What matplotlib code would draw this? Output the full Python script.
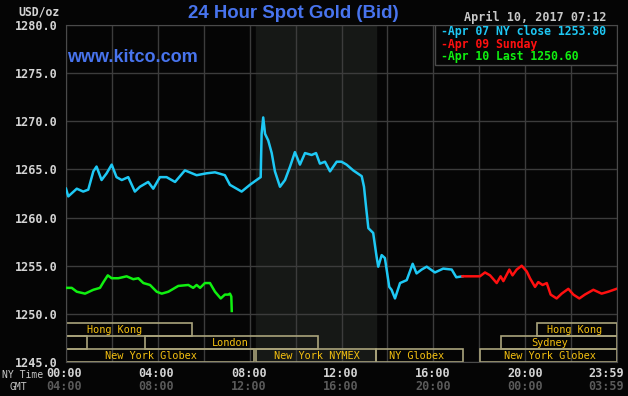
import matplotlib
matplotlib.use("Agg")
import matplotlib.pyplot as plt
from matplotlib.patches import Rectangle

# Apr 07 NY session (hours NY time, price)
blue_h = [0.0, 0.1, 0.47, 0.75, 0.97, 1.19, 1.33, 1.55, 1.77, 1.99, 2.2, 2.43, 2.71,
          3.0, 3.22, 3.58, 3.8, 4.09, 4.38, 4.75, 5.18, 5.69, 6.13, 6.49, 6.92, 7.14,
          7.65, 8.01, 8.3, 8.48, 8.52, 8.59, 8.67, 8.81, 8.96, 9.1, 9.32, 9.54, 9.76,
          9.97, 10.19, 10.41, 10.7, 10.89, 11.06, 11.28, 11.5, 11.79, 12.0, 12.22,
          12.51, 12.88, 12.98, 13.07, 13.17, 13.38, 13.53, 13.6, 13.75, 13.89, 14.08,
          14.18, 14.33, 14.55, 14.84, 15.1, 15.27, 15.49, 15.71, 16.07, 16.43, 16.8,
          17.0, 17.27]
blue_p = [1263.0, 1262.2, 1263.0, 1262.7, 1262.9, 1264.8, 1265.3, 1263.9, 1264.6,
          1265.5, 1264.2, 1263.9, 1264.2, 1262.7, 1263.2, 1263.7, 1263.0, 1264.2,
          1264.2, 1263.7, 1264.9, 1264.4, 1264.6, 1264.7, 1264.4, 1263.4, 1262.7,
          1263.4, 1263.9, 1264.2, 1268.7, 1270.4, 1268.7, 1268.0, 1266.7, 1264.8,
          1263.2, 1263.9, 1265.3, 1266.8, 1265.5, 1266.7, 1266.5, 1266.7, 1265.6,
          1265.8, 1264.8, 1265.8, 1265.8, 1265.5, 1264.9, 1264.3, 1263.2, 1261.1,
          1258.9, 1258.4, 1255.9, 1254.9, 1256.1, 1255.8, 1252.8, 1252.5, 1251.6,
          1253.2, 1253.5, 1255.2, 1254.2, 1254.6, 1254.9, 1254.3, 1254.7, 1254.6,
          1253.8, 1253.9]

# Apr 09 Sunday
red_h = [17.27, 18.03, 18.25, 18.47, 18.76, 18.93, 19.05, 19.31, 19.45, 19.63, 19.85,
         20.07, 20.21, 20.43, 20.57, 20.76, 20.94, 21.11, 21.37, 21.59, 21.88, 22.1,
         22.36, 22.6, 22.97, 23.33, 23.62, 23.98]
red_p = [1253.9, 1253.9, 1254.3, 1254.0, 1253.2, 1253.9, 1253.4, 1254.6, 1254.0,
         1254.6, 1255.0, 1254.4, 1253.7, 1252.8, 1253.3, 1253.0, 1253.2, 1252.0,
         1251.6, 1252.1, 1252.6, 1252.0, 1251.6, 1252.0, 1252.5, 1252.1, 1252.3,
         1252.6]

# Apr 10 so far
green_h = [0.0, 0.25, 0.47, 0.83, 1.19, 1.48, 1.63, 1.82, 1.99, 2.28, 2.64, 2.93, 3.15,
           3.37, 3.66, 3.95, 4.17, 4.46, 4.89, 5.33, 5.54, 5.69, 5.84, 6.05, 6.27,
           6.49, 6.74, 6.92, 7.07, 7.14, 7.2, 7.22]
green_p = [1252.7, 1252.7, 1252.3, 1252.1, 1252.5, 1252.7, 1253.3, 1254.0, 1253.7,
           1253.7, 1253.9, 1253.6, 1253.7, 1253.2, 1253.0, 1252.3, 1252.1, 1252.3,
           1252.9, 1253.0, 1252.7, 1253.0, 1252.7, 1253.2, 1253.2, 1252.3, 1251.6,
           1252.0, 1252.0, 1252.1, 1251.8, 1250.3]

# market sessions: (name, start, end, row, text start)
sessions = [
    ("Hong Kong", 0.0, 5.5, 2, 0.9),
    ("Hong Kong", 20.5, 24.0, 2, 20.95),
    ("", 0.0, 0.9, 1, 0),
    ("London", 3.45, 10.96, 1, 6.36),
    ("Sydney", 18.96, 24.0, 1, 20.25),
    ("New York Globex", 0.0, 8.2, 0, 1.7),
    ("New York NYMEX", 8.28, 13.5, 0, 9.06),
    ("NY Globex", 13.5, 17.3, 0, 14.07),
    ("New York Globex", 18.04, 24.0, 0, 19.08),
]
row_y = [1245.0, 1246.35, 1247.7]
row_h = 1.3

ny_ticks = [-0.1, 3.91, 7.96, 11.97, 15.98, 19.98, 23.52]
ny_labels = ["00:00", "04:00", "08:00", "12:00", "16:00", "20:00", "23:59"]
gmt_labels = ["04:00", "08:00", "12:00", "16:00", "20:00", "00:00", "03:59"]
y_ticks = [1245, 1250, 1255, 1260, 1265, 1270, 1275, 1280]

legend_rows = [("-Apr 07 NY close 1253.80", "#1ec8f4"),
               ("-Apr 09 Sunday", "#ff1010"),
               ("-Apr 10 Last 1250.60", "#10f010")]

mono = "DejaVu Sans Mono"
bg = "#050505"
title_blue = "#4874ee"

fig = plt.figure(figsize=(6.28, 3.96), dpi=100, facecolor=bg)
ax = fig.add_axes([66 / 628, 34 / 396, 551 / 628, 337 / 396], facecolor=bg)
ax.set_xlim(0, 24)
ax.set_ylim(1245, 1280)

# NYMEX pit hours shading
ax.axvspan(8.28, 13.5, color="#161816", zorder=0)

ax.set_xticks(range(0, 25, 2))
ax.set_xticklabels([])
ax.set_yticks(y_ticks)
ax.set_yticklabels([f"{v:.1f}" for v in y_ticks], family=mono, fontweight="bold",
                   fontsize=8.5, color="#d4d4d4")
ax.tick_params(length=0, pad=6)
ax.grid(True, color="#3c3c3c", lw=1, zorder=1)
for s in ax.spines.values():
    s.set_color("#4a4a4a")

for name, x0, x1, row, tx in sessions:
    ax.add_patch(Rectangle((x0, row_y[row]), x1 - x0, row_h, fill=False,
                           ec="#aaa47c", lw=1.2, zorder=2))
    if name:
        ax.text(tx, row_y[row] + row_h / 2, name, family=mono, fontsize=7.4,
                color="#f4c010", va="center", ha="left", zorder=3)

ax.plot(blue_h, blue_p, color="#1ec8f4", lw=1.8, zorder=4)
ax.plot(red_h, red_p, color="#ff1010", lw=1.8, zorder=4)
ax.plot(green_h, green_p, color="#10f010", lw=1.8, zorder=4)

# legend box in upper right
ax.add_patch(Rectangle((16.07, 1275.84), 24 - 16.07, 4.16, fc=bg, ec="#4a4a4a",
                       lw=1, zorder=5))
for i, (txt, col) in enumerate(legend_rows):
    ax.text(16.35, 1279.3 - i * 1.3, txt, family=mono, fontsize=8.3, fontweight="bold",
            color=col, va="center", ha="left", zorder=6)

ax.text(0.05, 1276.6, "www.kitco.com", fontsize=13, fontweight="bold",
        family="Liberation Sans", color=title_blue, va="center", ha="left", zorder=3)

xt = ax.get_xaxis_transform()
for x, a, b in zip(ny_ticks, ny_labels, gmt_labels):
    ax.text(x, -0.033, a, transform=xt, family=mono, fontsize=8.5, fontweight="bold",
            color="#d4d4d4", ha="center", va="center", clip_on=False)
    ax.text(x, -0.072, b, transform=xt, family=mono, fontsize=8.5, fontweight="bold",
            color="#5a5a5a", ha="center", va="center", clip_on=False)

fig.text(2 / 628, 1 - 375 / 396, "NY Time", family=mono, fontsize=7, color="#c8c8c8",
         ha="left", va="center")
fig.text(10 / 628, 1 - 387 / 396, "GMT", family=mono, fontsize=7, color="#c8c8c8",
         ha="left", va="center")
fig.text(60 / 628, 1 - 12 / 396, "USD/oz", family=mono, fontsize=8.3, fontweight="bold",
         color="#d4d4d4", ha="right", va="center")
fig.text(293 / 628, 1 - 14 / 396, "24 Hour Spot Gold (Bid)", family="Liberation Sans",
         fontsize=13.4, fontweight="bold", color=title_blue, ha="center", va="center")
fig.text(607 / 628, 1 - 17 / 396, "April 10, 2017 07:12", family=mono, fontsize=8.5,
         fontweight="bold", color="#c8c8c8", ha="right", va="center")

fig.savefig("out.png", dpi=100, facecolor=bg)
